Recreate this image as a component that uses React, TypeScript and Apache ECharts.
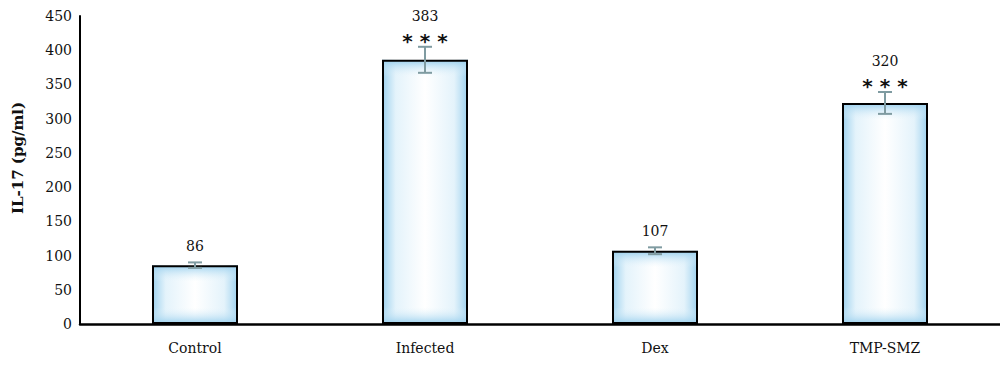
import React, { useEffect, useRef } from "react";
import * as echarts from "echarts";

const categories = ["Control", "Infected", "Dex", "TMP-SMZ"];
const values = [86, 386, 107, 323];
const valueLabels = ["86", "383", "107", "320"];
const errors = [4, 19, 5, 16];
const stars = ["", "* * *", "", "* * *"];
const yTicks = { min: 0, max: 450, interval: 50 };

const SERIF = "'DejaVu Serif', serif";

export default function App() {
  const ref = useRef<HTMLDivElement>(null);
  useEffect(() => {
    document.body.style.margin = "0";
    const chart = echarts.init(ref.current!, undefined, { renderer: "svg" });
    const gridTop = 16;
    const gridBottom = 42;
    const plotH = 366 - gridTop - gridBottom;
    const pxPerUnit = plotH / (yTicks.max - yTicks.min);
    const edge = "#9dd1ee";
    const option: any = {
      animation: false,
      grid: { left: 80, right: 0, top: gridTop, bottom: gridBottom, containLabel: false },
      xAxis: {
        type: "category",
        data: categories,
        axisLine: { lineStyle: { color: "#000", width: 2.5 } },
        axisTick: { show: false },
        axisLabel: { color: "#111", fontFamily: SERIF, fontSize: 14, margin: 17 },
      },
      yAxis: {
        type: "value",
        min: yTicks.min,
        max: yTicks.max,
        interval: yTicks.interval,
        axisLine: { show: true, lineStyle: { color: "#000", width: 2 } },
        axisTick: { show: false },
        splitLine: { show: false },
        axisLabel: { color: "#111", fontFamily: SERIF, fontSize: 14, margin: 8 },
      },
      graphic: [
        {
          type: "text",
          x: 18,
          y: 158,
          rotation: Math.PI / 2,
          style: {
            text: "IL-17 (pg/ml)",
            font: "bold 15px 'DejaVu Serif', serif",
            fill: "#111",
            textAlign: "center",
            textVerticalAlign: "middle",
          },
        },
      ],
      series: [
        {
          type: "bar",
          data: values,
          barWidth: 86,
          barGap: "-100%",
          z: 2,
          itemStyle: {
            color: {
              type: "linear",
              x: 0, y: 0, x2: 1, y2: 0,
              colorStops: [
                { offset: 0, color: edge },
                { offset: 0.16, color: "#e4f3fb" },
                { offset: 0.5, color: "#ffffff" },
                { offset: 0.84, color: "#e4f3fb" },
                { offset: 1, color: edge },
              ],
            },
          },
        },
        {
          type: "bar",
          data: values,
          barWidth: 86,
          barGap: "-100%",
          z: 3,
          itemStyle: {
            borderColor: "#000",
            borderWidth: 2,
            color: (p: any) => {
              const h = values[p.dataIndex] * pxPerUnit;
              const e = Math.min(0.3, 16 / h);
              return {
                type: "linear",
                x: 0, y: 0, x2: 0, y2: 1,
                colorStops: [
                  { offset: 0, color: "rgba(157,209,238,0.95)" },
                  { offset: e, color: "rgba(228,243,251,0)" },
                  { offset: 1 - e, color: "rgba(228,243,251,0)" },
                  { offset: 1, color: "rgba(157,209,238,0.95)" },
                ],
              };
            },
          },
        },
        {
          type: "custom",
          z: 5,
          data: values.map((v, i) => [i, v]),
          renderItem: (params: any, api: any) => {
            const i = params.dataIndex;
            const v = values[i];
            const err = errors[i];
            const top = api.coord([i, v + err]);
            const bot = api.coord([i, v - err]);
            const cx = top[0];
            const capW = 7;
            const st = { stroke: "#7f9ba1", lineWidth: 2 };
            const children: any[] = [
              { type: "line", shape: { x1: cx, y1: top[1], x2: cx, y2: bot[1] }, style: st },
              { type: "line", shape: { x1: cx - capW, y1: top[1], x2: cx + capW, y2: top[1] }, style: st },
              { type: "line", shape: { x1: cx - capW, y1: bot[1], x2: cx + capW, y2: bot[1] }, style: st },
            ];
            if (stars[i]) {
              children.push({
                type: "text",
                style: {
                  text: stars[i],
                  x: cx,
                  y: top[1] - 6,
                  font: "bold 20px 'DejaVu Sans', sans-serif",
                  fill: "#111",
                  textAlign: "center",
                  textVerticalAlign: "middle",
                },
              });
              children.push({
                type: "text",
                style: {
                  text: valueLabels[i],
                  x: cx,
                  y: top[1] - 31,
                  font: "14px 'DejaVu Serif', serif",
                  fill: "#111",
                  textAlign: "center",
                  textVerticalAlign: "middle",
                },
              });
            } else {
              children.push({
                type: "text",
                style: {
                  text: valueLabels[i],
                  x: cx,
                  y: top[1] - 16,
                  font: "14px 'DejaVu Serif', serif",
                  fill: "#111",
                  textAlign: "center",
                  textVerticalAlign: "middle",
                },
              });
            }
            return { type: "group", children };
          },
        },
      ],
    };
    chart.setOption(option);
    return () => chart.dispose();
  }, []);
  return (
    <div
      ref={ref}
      style={{ position: "absolute", left: 0, top: 0, width: 1000, height: 366, background: "#fff" }}
    />
  );
}
